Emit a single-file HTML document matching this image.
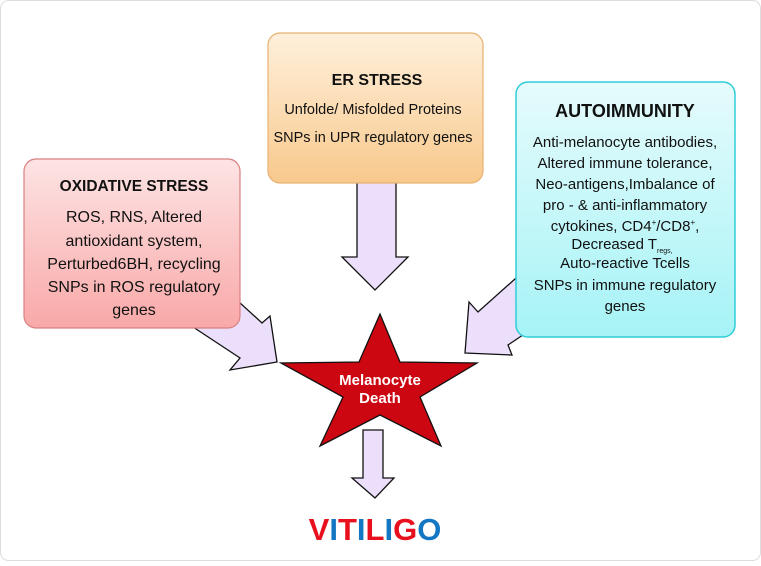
<!DOCTYPE html>
<html><head><style>
body{margin:0;width:761px;height:561px;background:#fff;overflow:hidden}
svg,text{font-family:"Liberation Sans",Arial,sans-serif}
</style></head><body>
<svg width="761" height="561" xmlns="http://www.w3.org/2000/svg">
<defs>
<linearGradient id="gp" x1="0" y1="0" x2="0" y2="1"><stop offset="0" stop-color="#fde4e4"/><stop offset="1" stop-color="#f9a8a8"/></linearGradient>
<linearGradient id="go" x1="0" y1="0" x2="0" y2="1"><stop offset="0" stop-color="#fff0dc"/><stop offset="1" stop-color="#f8c98c"/></linearGradient>
<linearGradient id="gc" x1="0" y1="0" x2="0" y2="1"><stop offset="0" stop-color="#e6fbfc"/><stop offset="1" stop-color="#a6f3f6"/></linearGradient>
</defs>
<rect x="0.5" y="0.5" width="760" height="560" rx="8" fill="#fff" stroke="#ddd"/>
<g fill="#ecdffb" stroke="#111" stroke-width="1.3">
<polygon points="357,180 396,180 396,257 408,257 375,290 342,257 357,257"/>
<polygon points="180,300 215,280 262,323 270,316 277,362 230,370 240,358 190,325"/>
<polygon points="540,280 560,310 508,345 512,355 465,353 469,302 478,312 525,270"/>
<polygon points="363,430 383,430 383,478 394,478 375,498 352,478 363,478"/>
</g>
<rect x="268" y="33" width="215" height="150" rx="12" fill="url(#go)" stroke="#e8b070" stroke-width="1.2"/>
<rect x="24" y="159" width="216" height="169" rx="12" fill="url(#gp)" stroke="#d98080" stroke-width="1.2"/>
<rect x="516" y="82" width="219" height="255" rx="12" fill="url(#gc)" stroke="#30cdd8" stroke-width="1.5"/>
<polygon points="380,314 400,362 477,363 420,397 441,446 380,415 320,446 343,397 281,363 359,362" fill="#cc0711" stroke="#111" stroke-width="1.3"/>
<g text-anchor="middle" fill="#fff" font-weight="bold" font-size="15">
<text x="380" y="385">Melanocyte</text><text x="380" y="403">Death</text></g>
<g text-anchor="middle" fill="#111">
<text x="377" y="85" font-weight="bold" font-size="16">ER STRESS</text>
<text x="373" y="114" font-size="14.5">Unfolde/ Misfolded Proteins</text>
<text x="373" y="142" font-size="14.5">SNPs in UPR regulatory genes</text>
<text x="134" y="191" font-weight="bold" font-size="15.5">OXIDATIVE STRESS</text>
<g font-size="16"><text x="134" y="222">ROS, RNS, Altered</text><text x="134" y="246">antioxidant system,</text><text x="134" y="269">Perturbed6BH, recycling</text><text x="134" y="292">SNPs in ROS regulatory</text><text x="134" y="315">genes</text></g>
<text x="625" y="117" font-weight="bold" font-size="18">AUTOIMMUNITY</text>
<g font-size="15"><text x="625" y="147">Anti-melanocyte antibodies,</text><text x="625" y="168">Altered immune tolerance,</text><text x="625" y="189">Neo-antigens,Imbalance of</text><text x="625" y="210">pro - &amp; anti-inflammatory</text><text x="625" y="231">cytokines, CD4<tspan font-size="8" dy="-6">+</tspan><tspan dy="6">/CD8</tspan><tspan font-size="8" dy="-6">+</tspan><tspan dy="6">,</tspan></text>
<text x="622" y="249">Decreased T<tspan font-size="7" dy="4">regs,</tspan></text>
<text x="625" y="268">Auto-reactive Tcells</text><text x="625" y="290">SNPs in immune regulatory</text><text x="625" y="311">genes</text></g>
</g>
<text x="375" y="540" text-anchor="middle" font-weight="bold" font-size="31"><tspan fill="#e8101c">V</tspan><tspan fill="#1477c4">I</tspan><tspan fill="#e8101c">T</tspan><tspan fill="#1477c4">I</tspan><tspan fill="#e8101c">L</tspan><tspan fill="#1477c4">I</tspan><tspan fill="#e8101c">G</tspan><tspan fill="#1477c4">O</tspan></text>
</svg>
</body></html>
